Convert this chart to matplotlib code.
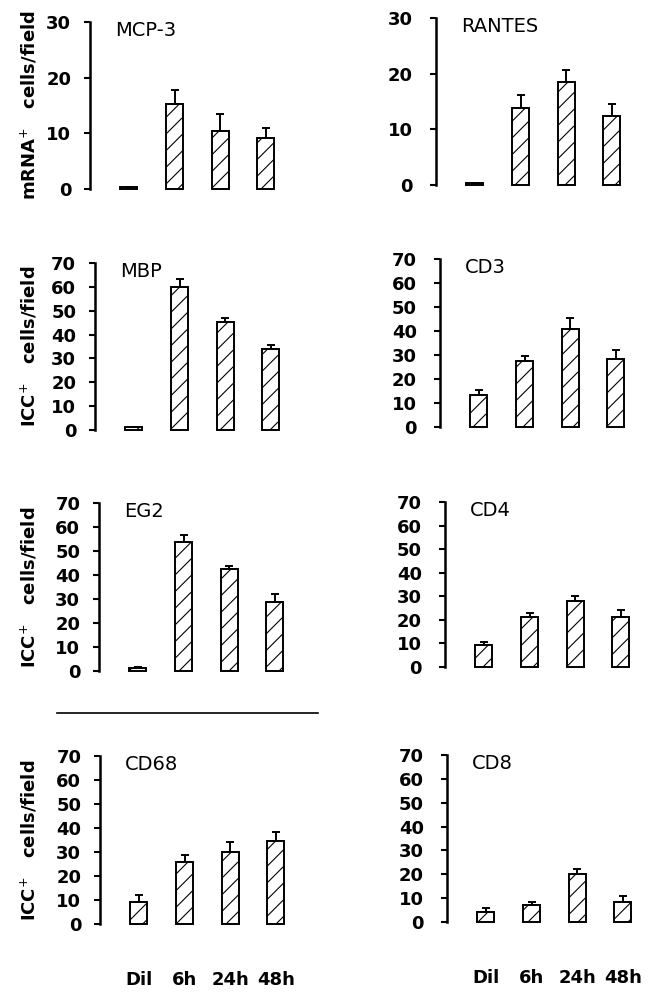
import matplotlib
matplotlib.use("Agg")
import matplotlib.pyplot as plt
from matplotlib.lines import Line2D

plt.rcParams["font.family"] = ["DejaVu Sans"]
plt.rcParams["hatch.linewidth"] = 0.8

groups = ["Dil", "6h", "24h", "48h"]

mcp3 = [0.4, 15.3, 10.4, 9.2]
mcp3_err = [0.0, 2.5, 3.1, 1.7]
rantes = [0.3, 13.9, 18.5, 12.4]
rantes_err = [0.0, 2.3, 2.1, 2.2]
mbp = [1.2, 59.8, 45.3, 34.0]
mbp_err = [0.0, 3.5, 1.5, 1.5]
cd3 = [13.5, 27.5, 40.9, 28.2]
cd3_err = [2.1, 2.2, 4.7, 4.0]
eg2 = [1.2, 53.6, 42.7, 28.6]
eg2_err = [0.6, 3.0, 1.2, 3.5]
cd4 = [9.4, 21.1, 27.9, 21.4]
cd4_err = [1.0, 1.7, 2.2, 2.8]
cd68 = [9.2, 25.7, 30.1, 34.6]
cd68_err = [3.0, 3.2, 3.9, 3.9]
cd8 = [4.0, 7.3, 20.0, 8.2]
cd8_err = [1.7, 1.2, 2.2, 2.5]

W, H = 652, 992
XLIM = (-0.85, 3.5)
UNIT_PX = 45.7

# (nome, valores, erros, ymax, x do eixo, y topo, y zero, coluna, ultima linha)
panels = [
    ("MCP-3", mcp3, mcp3_err, 30, 90, 22, 189, 0, False),
    ("RANTES", rantes, rantes_err, 30, 436, 18, 185, 1, False),
    ("MBP", mbp, mbp_err, 70, 95, 263, 430, 0, False),
    ("CD3", cd3, cd3_err, 70, 440, 259, 427, 1, False),
    ("EG2", eg2, eg2_err, 70, 99, 503, 671, 0, False),
    ("CD4", cd4, cd4_err, 70, 445, 502, 667, 1, False),
    ("CD68", cd68, cd68_err, 70, 100, 756, 924, 0, True),
    ("CD8", cd8, cd8_err, 70, 447, 755, 922, 1, True),
]

fig = plt.figure(figsize=(W / 100, H / 100), dpi=100)

for i, (name, vals, errs, ymax, sx, ytop, yzero, col, last) in enumerate(panels):
    wpx = (XLIM[1] - XLIM[0]) * UNIT_PX
    ax = fig.add_axes([sx / W, 1 - yzero / H, wpx / W, (yzero - ytop) / H])
    x = list(range(len(vals)))
    ax.bar(x, vals, width=0.37, color="white", edgecolor="black",
           linewidth=1.4, hatch="//", clip_on=False)
    ax.errorbar(x, vals, yerr=[[0] * len(errs), errs], fmt="none",
                ecolor="black", elinewidth=1.4, capsize=3, capthick=1.4,
                clip_on=False)
    ax.set_xlim(*XLIM)
    ax.set_ylim(0, ymax)
    ax.set_yticks(range(0, ymax + 1, 10))
    for s in ("top", "right", "bottom"):
        ax.spines[s].set_visible(False)
    ax.spines["left"].set_linewidth(1.8)
    ax.tick_params(axis="y", direction="out", length=4, width=1.5,
                   pad=9.5 if col == 0 else 12.5, labelsize=13)
    for t in ax.get_yticklabels():
        t.set_fontweight("bold")
    ax.annotate(name, xy=(XLIM[0], ymax), xytext=(18, -6),
                textcoords="offset points", ha="left", va="center",
                fontsize=14)
    if last:
        ax.set_xticks(x)
        ax.set_xticklabels(groups, fontsize=13, fontweight="bold")
        ax.tick_params(axis="x", length=0, pad=34)
    else:
        ax.tick_params(axis="x", bottom=False, labelbottom=False)
    if col == 0:
        lab = "mRNA$^{+}$   cells/field" if ymax == 30 else "ICC$^{+}$   cells/field"
        ax.set_ylabel(lab, fontsize=13, fontweight="bold", va="center")
        ax.yaxis.set_label_coords((29 - sx) / wpx, 0.5)

fig.add_artist(Line2D([57 / W, 318 / W], [1 - 713 / H] * 2,
                      transform=fig.transFigure, color="black", linewidth=1.2))

fig.savefig("out.png", dpi=100)
